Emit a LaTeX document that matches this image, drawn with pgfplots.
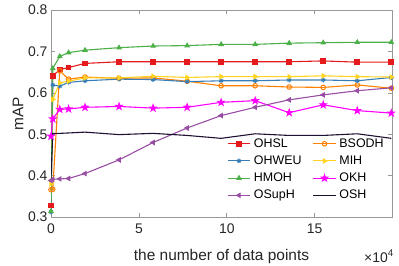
\documentclass[border=0pt]{standalone}
\usepackage{pgfplots}
\pgfplotsset{compat=1.18}
\usepackage{fontspec}
\setmainfont{Liberation Sans}
\definecolor{cRed}{HTML}{E41A1C}
\definecolor{cOrange}{HTML}{FF7F00}
\definecolor{cBlue}{HTML}{377EB8}
\definecolor{cYellow}{HTML}{FFD320}
\definecolor{cGreen}{HTML}{4DAF4A}
\definecolor{cMag}{HTML}{FF00FF}
\definecolor{cPurple}{HTML}{984EA3}
\definecolor{cBlack}{HTML}{1E1030}
\pgfdeclareplotmark{pstar}{%
 \pgfpathmoveto{\pgfpointpolar{90}{1.4\pgfplotmarksize}}%
 \pgfpathlineto{\pgfpointpolar{126}{0.55\pgfplotmarksize}}%
 \pgfpathlineto{\pgfpointpolar{162}{1.4\pgfplotmarksize}}%
 \pgfpathlineto{\pgfpointpolar{198}{0.55\pgfplotmarksize}}%
 \pgfpathlineto{\pgfpointpolar{234}{1.4\pgfplotmarksize}}%
 \pgfpathlineto{\pgfpointpolar{270}{0.55\pgfplotmarksize}}%
 \pgfpathlineto{\pgfpointpolar{306}{1.4\pgfplotmarksize}}%
 \pgfpathlineto{\pgfpointpolar{342}{0.55\pgfplotmarksize}}%
 \pgfpathlineto{\pgfpointpolar{18}{1.4\pgfplotmarksize}}%
 \pgfpathlineto{\pgfpointpolar{54}{0.55\pgfplotmarksize}}%
 \pgfpathclose
 \pgfusepathqfillstroke
}
\begin{document}
\begin{tikzpicture}
\path[use as bounding box] (-51bp,-49bp) rectangle (348bp,217bp);
\begin{axis}[
  name=ax,
  scale only axis,
  width=341bp, height=207bp,
  xmin=0, xmax=19.4, ymin=0.3, ymax=0.8,
  xtick={0,5,10,15}, ytick={0.3,0.4,0.5,0.6,0.7,0.8},
  yticklabel style={/pgf/number format/fixed,/pgf/number format/precision=1,/pgf/number format/fixed zerofill},
  /pgf/number format/assume math mode=true,
  tick label style={font=\fontsize{14}{16}\selectfont, text=black!85},
  xticklabel style={yshift=-3bp},
  label style={font=\fontsize{15.5}{18}\selectfont, text=black!85},
  xlabel={the number of data points},
  ylabel={mAP},
  xlabel style={yshift=-9bp},
  ylabel style={yshift=-2bp},
  axis line style={gray!80, line width=0.6pt},
  tick style={gray!80, line width=0.6pt},
  tick align=inside,
  major tick length=4bp,
  every axis plot/.append style={line width=1.1pt, mark size=2.3pt},
  legend columns=2,
  legend cell align=left,
  legend style={at={(0.985,0.06)}, anchor=south east, draw=none, fill=none,
    font=\fontsize{12.5}{14}\selectfont, row sep=3bp, inner xsep=1bp,
    /tikz/every odd column/.append style={column sep=1bp},
    /tikz/every even column/.append style={column sep=9bp}},
  legend image code/.code={%
    \draw[mark repeat=2,mark phase=2] plot coordinates {(0cm,0cm) (0.4cm,0cm) (0.8cm,0cm)};},
]
\addplot[cRed, mark=square*] coordinates {
(0,0.328) (0.1,0.641) (0.5,0.656) (1,0.661) (1.936,0.671) (3.872,0.675) (5.808,0.675) (7.744,0.675) (9.68,0.675) (11.616,0.675) (13.552,0.675) (15.488,0.677) (17.424,0.674) (19.36,0.674)};
\addlegendentry{OHSL}
\addplot[cOrange, mark=o, mark options={line width=1pt}] coordinates {
(0,0.366) (0.1,0.367) (0.5,0.653) (1,0.633) (1.936,0.638) (3.872,0.635) (5.808,0.636) (7.744,0.628) (9.68,0.617) (11.616,0.617) (13.552,0.614) (15.488,0.613) (17.424,0.619) (19.36,0.611)};
\addlegendentry{BSODH}
\addplot[cBlue, mark=asterisk, mark options={line width=1.2pt}] coordinates {
(0,0.312) (0.1,0.619) (0.5,0.616) (1,0.625) (1.936,0.629) (3.872,0.633) (5.808,0.632) (7.744,0.627) (9.68,0.629) (11.616,0.629) (13.552,0.631) (15.488,0.631) (17.424,0.629) (19.36,0.637)};
\addlegendentry{OHWEU}
\addplot[cYellow, mark=triangle*, mark options={rotate=-90}] coordinates {
(0,0.380) (0.1,0.584) (0.5,0.624) (1,0.628) (1.936,0.636) (3.872,0.636) (5.808,0.640) (7.744,0.637) (9.68,0.639) (11.616,0.639) (13.552,0.639) (15.488,0.641) (17.424,0.639) (19.36,0.638)};
\addlegendentry{MIH}
\addplot[cGreen, mark=triangle*] coordinates {
(0,0.314) (0.1,0.659) (0.5,0.688) (1,0.697) (1.936,0.703) (3.872,0.709) (5.808,0.713) (7.744,0.714) (9.68,0.717) (11.616,0.717) (13.552,0.720) (15.488,0.721) (17.424,0.722) (19.36,0.722)};
\addlegendentry{HMOH}
\addplot[cMag, mark=pstar] coordinates {
(0,0.495) (0.1,0.537) (0.5,0.560) (1,0.561) (1.936,0.565) (3.872,0.567) (5.808,0.563) (7.744,0.565) (9.68,0.577) (11.616,0.581) (13.552,0.552) (15.488,0.571) (17.424,0.557) (19.36,0.551)};
\addlegendentry{OKH}
\addplot[cPurple, mark=triangle*, mark options={rotate=90}] coordinates {
(0,0.388) (0.1,0.391) (0.5,0.392) (1,0.393) (1.936,0.405) (3.872,0.438) (5.808,0.480) (7.744,0.515) (9.68,0.545) (11.616,0.565) (13.552,0.583) (15.488,0.595) (17.424,0.605) (19.36,0.612)};
\addlegendentry{OSupH}
\addplot[cBlack, mark=none] coordinates {
(0,0.392) (0.1,0.502) (0.5,0.502) (1,0.503) (1.936,0.505) (3.872,0.499) (5.808,0.502) (7.744,0.497) (9.68,0.490) (11.616,0.501) (13.552,0.497) (15.488,0.497) (17.424,0.501) (19.36,0.490)};
\addlegendentry{OSH}
\end{axis}
\node[anchor=base east, font=\fontsize{14}{16}\selectfont, text=black!85, inner sep=0pt] at ([xshift=2bp,yshift=-45bp]ax.south east) {×10\textsuperscript{4}};
\end{tikzpicture}
\end{document}
